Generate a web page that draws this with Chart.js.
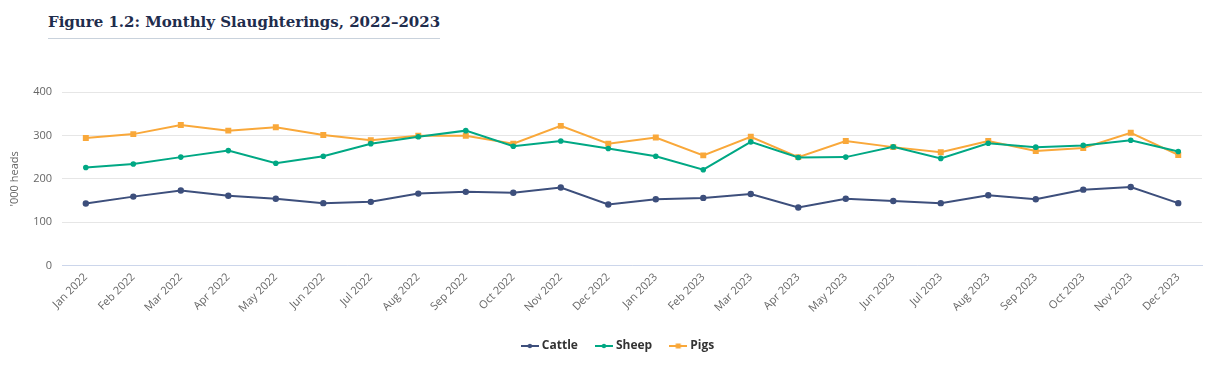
<!DOCTYPE html>
<html>
<head>
<meta charset="utf-8">
<script src="https://cdn.jsdelivr.net/npm/chart.js@4/dist/chart.umd.min.js"></script>
<style>
  html, body { margin: 0; padding: 0; background: #fff; }
  #wrap { position: relative; width: 1208px; height: 366px; }
  #title {
    position: absolute; left: 48px; top: 13px;
    font-family: "DejaVu Serif", serif; font-weight: bold; font-size: 15px;
    color: #1f2d4d; padding-bottom: 7px; border-bottom: 1px solid #c9d2dc;
  }
  #chart { position: absolute; left: 0; top: 0; }
</style>
</head>
<body>
<div id="wrap">
  <div id="title">Figure 1.2: Monthly Slaughterings, 2022–2023</div>
  <canvas id="chart" width="1208" height="366"></canvas>
</div>
<script>
const months = ['Jan 2022','Feb 2022','Mar 2022','Apr 2022','May 2022','Jun 2022','Jul 2022','Aug 2022','Sep 2022','Oct 2022','Nov 2022','Dec 2022',
  'Jan 2023','Feb 2023','Mar 2023','Apr 2023','May 2023','Jun 2023','Jul 2023','Aug 2023','Sep 2023','Oct 2023','Nov 2023','Dec 2023'];
const cattle = [143, 159, 173, 161, 154, 144, 147, 166, 170, 168, 180, 141, 153, 156, 165, 134, 154, 149, 144, 162, 153, 175, 181, 144];
const sheep = [226, 234, 250, 265, 236, 252, 281, 297, 311, 275, 287, 270, 252, 221, 285, 249, 250, 274, 247, 282, 273, 277, 289, 263];
const pigs = [294, 303, 324, 311, 319, 301, 289, 299, 299, 281, 322, 281, 295, 254, 297, 250, 287, 273, 261, 287, 264, 271, 306, 255];
const yTicks = [0, 100, 200, 300, 400];

const cCattle = '#3d4f7c';
const cSheep = '#00a884';
const cPigs = '#f9a83a';

function legendIcon(color, square) {
  const c = document.createElement('canvas');
  c.width = 18; c.height = 10;
  const g = c.getContext('2d');
  g.strokeStyle = color; g.lineWidth = 2;
  g.beginPath(); g.moveTo(0, 5); g.lineTo(18, 5); g.stroke();
  g.fillStyle = color;
  if (square) { g.fillRect(6.5, 2.5, 5, 5); }
  else { g.beginPath(); g.arc(9, 5, 2.2, 0, Math.PI * 2); g.fill(); }
  return c;
}

// nudge the legend to sit where the original one does
const legendShift = {
  id: 'legendShift',
  afterLayout(chart) {
    chart.legend.left += 14;
    chart.legend.right += 14;
  }
};

const ctx = document.getElementById('chart').getContext('2d');
new Chart(ctx, {
  type: 'line',
  data: {
    labels: months,
    datasets: [
      { label: 'Cattle', data: cattle, borderColor: cCattle, backgroundColor: cCattle, borderWidth: 2,
        pointRadius: 2.2, pointStyle: 'circle', legendIcon: legendIcon(cCattle, false) },
      { label: 'Sheep', data: sheep, borderColor: cSheep, backgroundColor: cSheep, borderWidth: 2,
        pointRadius: 1.8, pointStyle: 'circle', legendIcon: legendIcon(cSheep, false) },
      { label: 'Pigs', data: pigs, borderColor: cPigs, backgroundColor: cPigs, borderWidth: 2,
        pointRadius: 2.8, pointStyle: 'rect', legendIcon: legendIcon(cPigs, true) }
    ]
  },
  plugins: [legendShift],
  options: {
    responsive: false,
    animation: false,
    layout: { padding: { top: 92, left: 6, right: 4, bottom: 4 } },
    plugins: {
      tooltip: { enabled: false },
      legend: {
        position: 'bottom',
        labels: {
          usePointStyle: true,
          color: '#333',
          font: { family: 'Open Sans', size: 12, weight: 'bold' },
          padding: 20,
          generateLabels: (chart) => chart.data.datasets.map((ds, i) => ({
            text: ds.label,
            pointStyle: ds.legendIcon,
            fillStyle: ds.borderColor,
            strokeStyle: ds.borderColor,
            lineWidth: 0,
            hidden: false,
            datasetIndex: i,
            fontColor: '#333'
          }))
        }
      }
    },
    scales: {
      x: {
        offset: true,
        grid: { display: false, drawTicks: false },
        border: { color: '#ccd6eb' },
        ticks: {
          color: '#666', font: { family: 'Open Sans', size: 11 },
          maxRotation: 45, minRotation: 45, autoSkip: false, padding: 5
        }
      },
      y: {
        min: 0, max: 400,
        afterBuildTicks: (axis) => { axis.ticks = yTicks.map(v => ({ value: v })); },
        grid: { color: '#e6e6e6', drawTicks: false },
        border: { display: false },
        ticks: { color: '#666', font: { family: 'Open Sans', size: 11 }, padding: 10 },
        title: { display: true, text: "'000 heads", color: '#666', font: { family: 'Open Sans', size: 11 }, padding: 2 }
      }
    }
  }
});
</script>
</body>
</html>
